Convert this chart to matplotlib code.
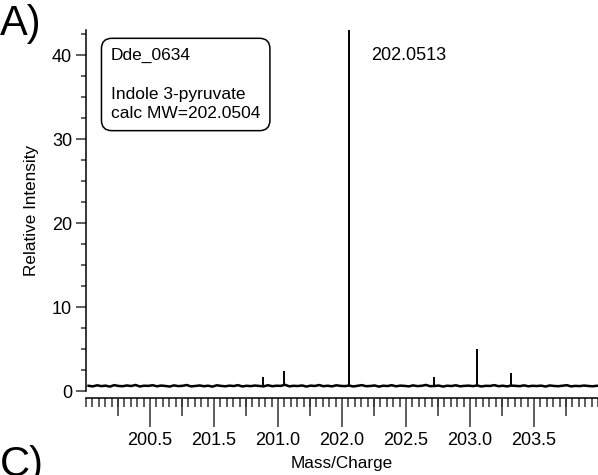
import numpy as np
import matplotlib
matplotlib.use("Agg")
import matplotlib.pyplot as plt
from matplotlib.ticker import FixedLocator, MultipleLocator, NullFormatter

plt.rcParams['font.family'] = ['Liberation Sans', 'DejaVu Sans']

# peaks (m/z, relative intensity)
peak_mz = [201.385, 201.547, 202.0513, 202.716, 203.052, 203.323]
peak_int = [1.7, 2.4, 100.0, 1.7, 5.0, 2.2]

# baseline noise, sampled across the whole window
base_int = [0.62, 0.55, 0.68, 0.58, 0.64, 0.52, 0.70, 0.60, 0.57, 0.66,
            0.59, 0.72, 0.54, 0.63, 0.61, 0.69, 0.56, 0.65, 0.60, 0.53,
            0.67, 0.58, 0.62, 0.71, 0.55, 0.60, 0.66, 0.57, 0.63, 0.52,
            0.68, 0.61, 0.56, 0.64, 0.59, 0.70, 0.54, 0.62, 0.58, 0.65,
            0.60, 0.55, 0.69, 0.57, 0.63, 0.61, 0.74, 0.56, 0.62, 0.59,
            0.66, 0.53, 0.64, 0.60, 0.71, 0.57, 0.63, 0.55, 0.68, 0.61,
            0.58, 0.65, 0.54, 0.62, 0.70, 0.57, 0.60, 0.66, 0.52, 0.63,
            0.59, 0.69, 0.56, 0.64, 0.61, 0.55, 0.67, 0.58, 0.62, 0.72,
            0.57, 0.60, 0.65, 0.53, 0.63, 0.59, 0.68, 0.56, 0.61, 0.64,
            0.58, 0.66, 0.54, 0.62, 0.60, 0.70, 0.57, 0.63, 0.55, 0.65,
            0.61, 0.58, 0.67, 0.56, 0.62, 0.59, 0.64, 0.53, 0.66, 0.60,
            0.57, 0.63, 0.69, 0.55, 0.61, 0.58, 0.65, 0.60, 0.56, 0.62]
base_mz = np.linspace(200.02, 203.99, len(base_int))

# tick labels exactly as printed in the figure
xtick_pos = [200.5, 201.0, 201.5, 202.0, 202.5, 203.0, 203.5]
xtick_lbl = ['200.5', '201.5', '201.0', '202.0', '202.5', '203.0', '203.5']
xtick_mid = [200.25, 200.75, 201.25, 201.75, 202.25, 202.75, 203.25, 203.75]
yticks = [0, 10, 20, 30, 40]

fig = plt.figure(figsize=(5.98, 4.75), dpi=100)
ax = fig.add_axes([86 / 598, 84 / 475, 1 - 86 / 598, (391 - 30) / 475])
# twin x axis only carries the medium ticks at the quarter marks
ax2 = ax.twiny()

ax.plot(base_mz, base_int, color='black', lw=1.8)
base_at_peak = np.interp(peak_mz, base_mz, base_int)
ax.vlines(peak_mz, base_at_peak, peak_int, color='black', lw=1.4)

ax.set_xlim(200.0, 204.0)
ax.set_ylim(0, 43)
ax2.set_xlim(200.0, 204.0)

for s in ['top', 'right']:
    ax.spines[s].set_visible(False)
ax.spines['left'].set_linewidth(1.1)
ax.spines['bottom'].set_linewidth(1.1)
ax.spines['bottom'].set_position(('outward', 5))

tick_col = '#333333'
ax2.xaxis.set_ticks_position('bottom')
ax2.spines['bottom'].set_position(('outward', 5))
for s in ax2.spines.values():
    s.set_visible(False)
ax2.xaxis.set_major_locator(FixedLocator(xtick_mid))
ax2.xaxis.set_major_formatter(NullFormatter())
ax2.tick_params(axis='x', which='major', length=13, width=1.1, color=tick_col,
                labelbottom=False, labeltop=False)

ax.set_xticks(xtick_pos)
ax.set_xticklabels(xtick_lbl)
ax.xaxis.set_minor_locator(MultipleLocator(0.05))
ax.tick_params(axis='x', which='major', direction='out', length=21, width=1.1,
               color=tick_col, pad=3.5, labelsize=13, bottom=True, labelbottom=True)
ax.tick_params(axis='x', which='minor', direction='out', length=6.3, width=1.1, color=tick_col)

ax.set_yticks(yticks)
ax.yaxis.set_minor_locator(MultipleLocator(2.5))
ax.tick_params(axis='y', which='major', length=7, width=1.1, pad=3, labelsize=13, color=tick_col)
ax.tick_params(axis='y', which='minor', length=3.6, width=1.1, color=tick_col)

ax.set_xlabel('Mass/Charge', fontsize=12.3, labelpad=5)
ax.set_ylabel('Relative Intensity', fontsize=12.3, labelpad=9)

ax.text(202.23, 40, '202.0513', fontsize=13, va='center', ha='left')

fig.text(111 / 598, 1 - 48 / 475, 'Dde_0634\n\nIndole 3-pyruvate\ncalc MW=202.0504',
         fontsize=12.5, va='top', ha='left', linespacing=1.36,
         bbox=dict(boxstyle='round,pad=0.55,rounding_size=0.6', fc='white', ec='black', lw=1.1))

fig.text(0.0, 1 - 4 / 475, 'A)', fontsize=30, va='top', ha='left')
fig.text(0.0, 1 - 445 / 475, 'C)', fontsize=30, va='top', ha='left')

fig.savefig('out.png', dpi=100)
